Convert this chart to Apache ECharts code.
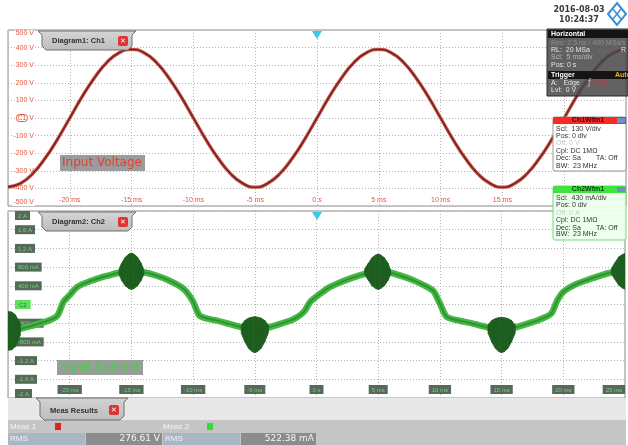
<!DOCTYPE html>
<html><head><meta charset="utf-8">
<script src="https://cdn.jsdelivr.net/npm/echarts@6/dist/echarts.min.js"></script>
<style>html,body{margin:0;padding:0;background:#fff;}#c{width:628px;height:445px;}</style>
</head><body><div id="c"></div>
<script>
// ---- data ----
const voltTime = [-25,-24,-23,-22,-21,-20,-19,-18,-17,-16,-15,-14,-13,-12,-11,-10,-9,-8,-7,-6,-5,-4,-3,-2,-1,0,1,2,3,4,5,6,7,8,9,10,11,12,13,14,15,16,17,18,19,20,21,22,23,24,25];
const voltValue = [-392,-372,-316,-229,-121,0,121,229,316,371,390,371,316,229,121,0,-121,-229,-316,-372,-393,-372,-316,-229,-121,0,121,229,316,371,390,371,316,229,121,0,-121,-229,-316,-372,-393,-372,-316,-229,-121,0,121,229,316,371,390];
const currTime = [-25,-24,-23,-22,-21.5,-21,-20.5,-20,-19.5,-19,-18,-17,-16,-15,-14,-13,-12,-11,-10.5,-10,-9.5,-9,-8,-7,-6,-5,-4,-3,-2,-1.5,-1,-0.5,0,0.5,1,2,3,4,5,6,7,8,9,9.5,10,10.5,11,12,13,14,15,16,17,18,19,19.5,20,21,22,23,24,25];
const currValue = [-560,-520,-450,-370,-320,-240,60,200,350,430,530,610,680,720,690,620,520,380,260,60,-230,-290,-350,-420,-490,-560,-500,-420,-330,-260,-150,60,170,270,360,480,580,660,720,680,600,500,370,280,20,-250,-310,-370,-430,-500,-560,-500,-420,-330,-200,80,270,430,530,620,690,730];
const blobGroup = [0,0,0,0,0,0,0, 1,1,1,1,1,1,1,1,1, 2,2,2,2,2,2,2,2,2, 3,3,3,3,3,3,3,3,3, 4,4,4,4,4,4,4,4,4, 5,5,5,5,5,5];
const blobTime  = [-25.9,-25.6,-25.3,-25,-24.7,-24.4,-24.0,
                   -16.0,-15.8,-15.5,-15.2,-15,-14.8,-14.5,-14.2,-14.0,
                   -6.1,-5.8,-5.5,-5.2,-5,-4.8,-4.5,-4.2,-3.9,
                   3.9,4.2,4.5,4.8,5,5.2,5.5,5.8,6.0,
                   13.9,14.2,14.5,14.8,15,15.2,15.5,15.8,16.1,
                   23.9,24.2,24.5,24.8,25,25.3];
const blobHigh  = [-260,-200,-160,-150,-160,-220,-420,
                   760,880,1010,1080,1100,1080,1010,880,740,
                   -440,-340,-290,-270,-260,-270,-290,-340,-440,
                   760,880,1000,1060,1080,1060,1000,880,740,
                   -440,-340,-300,-280,-280,-280,-300,-340,-440,
                   770,900,1020,1070,1090,1070];
const blobLow   = [-880,-940,-970,-980,-970,-900,-660,
                   640,520,400,340,320,340,400,520,640,
                   -610,-800,-940,-1010,-1030,-1010,-940,-800,-610,
                   640,520,400,340,320,340,400,520,640,
                   -610,-800,-940,-1010,-1030,-1010,-940,-800,-610,
                   650,530,410,350,330,350];
const currTickLabels = {'-2000':'-2 A','-1600':'-1.6 A','-1200':'-1.2 A','-800':'-800 mA','-400':'-400 mA','0':'C2','400':'400 mA','800':'800 mA','1200':'1.2 A','1600':'1.6 A','2000':'2 A'};
const timeTickLabel = v => v === 0 ? '0 s' : v + ' ms';

const chart = echarts.init(document.getElementById('c'), null, {renderer:'canvas'});
const F = '"Liberation Sans", Arial, sans-serif';
const grid = {lineStyle:{color:'#b4b4b4', type:[1,2], width:1}};
const option = {
  animation:false,
  backgroundColor:'#fff',
  grid:[
    {left:8, top:30, width:618, height:176, show:true, borderColor:'#8f8f8f', borderWidth:1, backgroundColor:'#fff'},
    {left:8, top:211, width:618, height:187, show:true, borderColor:'#8f8f8f', borderWidth:1, backgroundColor:'#fff'}
  ],
  xAxis:[
    {type:'value', gridIndex:0, min:-25, max:25, interval:5, axisLine:{show:false}, axisTick:{show:false},
     splitLine:{show:true, ...grid}, axisLabel:{inside:true, margin:2, color:'#e8553f', fontSize:7, fontFamily:F,
     showMinLabel:false, showMaxLabel:false, formatter:timeTickLabel}},
    {type:'value', gridIndex:1, min:-25, max:25, interval:5, axisLine:{show:false}, axisTick:{show:false},
     splitLine:{show:true, ...grid}, axisLabel:{inside:true, margin:4, showMinLabel:false, showMaxLabel:true, alignMaxLabel:'right',
     formatter: v => '{b|' + timeTickLabel(v) + '}',
     rich:{b:{backgroundColor:'#56695a', color:'#6fd66f', fontSize:6, fontFamily:F, padding:[2,3,1,3]}}}}
  ],
  yAxis:[
    {type:'value', gridIndex:0, min:-500, max:500, interval:100, axisLine:{show:false}, axisTick:{show:false},
     splitLine:{show:true, ...grid},
     axisLabel:{inside:true, align:'right', margin:27, color:'#e8553f', fontSize:7, fontFamily:F,
       verticalAlignMaxLabel:'top', verticalAlignMinLabel:'bottom',
       backgroundColor:'#fff', padding:[0,1],
       formatter: v => v === 0 ? '{c|C1}{u| V}' : v + ' V',
       rich:{c:{color:'#e8553f', borderColor:'#e8553f', borderWidth:1, borderRadius:3, padding:[0,1], fontSize:7, fontFamily:F},
             u:{color:'#e8553f', fontSize:7, fontFamily:F}}}},
    {type:'value', gridIndex:1, min:-2000, max:2000, interval:400, axisLine:{show:false}, axisTick:{show:false},
     splitLine:{show:true, ...grid},
     axisLabel:{inside:true, align:'left', margin:7, verticalAlignMaxLabel:'top', verticalAlignMinLabel:'bottom',
       formatter: v => v === 0 ? '{z|C2}' : '{b|' + currTickLabels[String(v)] + '}',
       rich:{b:{backgroundColor:'#56695a', color:'#6fd66f', fontSize:6, fontFamily:F, padding:[2,3,1,3]},
             z:{backgroundColor:'#5ee05e', color:'#2a7a2a', fontSize:6, fontFamily:F, padding:[2,4,1,4]}}}}
  ],
  series:[
    {type:'line', xAxisIndex:0, yAxisIndex:0, data:voltTime.map((t,i)=>[t,voltValue[i]]), smooth:true, showSymbol:false,
     lineStyle:{color:'#c0554a', width:3.4}, z:3},
    {type:'line', xAxisIndex:0, yAxisIndex:0, data:voltTime.map((t,i)=>[t,voltValue[i]]), smooth:true, showSymbol:false,
     lineStyle:{color:'#7d1d18', width:1.4}, z:4},
    {type:'line', xAxisIndex:1, yAxisIndex:1, data:currTime.map((t,i)=>[t,currValue[i]]), smooth:0.3, showSymbol:false,
     lineStyle:{color:'#45b845', width:6.5}, z:3},
    {type:'line', xAxisIndex:1, yAxisIndex:1, data:currTime.map((t,i)=>[t,currValue[i]]), smooth:0.3, showSymbol:false,
     lineStyle:{color:'#2a8a2a', width:2, opacity:0.8}, z:4},
    {type:'custom', xAxisIndex:1, yAxisIndex:1, clip:true, z:5,
     data: blobTime.map((t,i)=>[t, blobHigh[i], blobLow[i]]),
     encode:{x:0, y:[1,2]},
     renderItem: function(params, api){
       const i = params.dataIndex;
       if (i + 1 >= blobTime.length || blobGroup[i+1] !== blobGroup[i]) return null;
       const a = api.coord([blobTime[i], blobHigh[i]]);
       const b = api.coord([blobTime[i+1], blobHigh[i+1]]);
       const c = api.coord([blobTime[i+1], blobLow[i+1]]);
       const d = api.coord([blobTime[i], blobLow[i]]);
       return {type:'polygon', shape:{points:[a,b,c,d]}, style:{fill:'#1d5e1f', stroke:'#1d5e1f', lineWidth:0.8}};
     }}
  ]
};
chart.setOption(option);

const x0 = chart.convertToPixel({xAxisIndex:0}, 0);
function txt(x, y, s, o){ return Object.assign({type:'text', x:x, y:y, z:100, style:Object.assign({text:s, fill:'#333', font:'7px '+F, textVerticalAlign:'middle'}, o||{})}); }
function rect(x,y,w,h,fill,extra){ return {type:'rect', z:99, shape:Object.assign({x:x,y:y,width:w,height:h}, extra&&extra.r?{r:extra.r}:{}), style:Object.assign({fill:fill}, extra&&extra.style||{})}; }
function tab(x, y, label){
  return [
    {type:'polygon', z:99, shape:{points:[[x-4,y],[x,y+4],[x,y+15],[x+4,y+19],[x+86,y+19],[x+90,y+15],[x+90,y+4],[x+94,y]]},
     style:{fill:new echarts.graphic.LinearGradient(0,0,0,1,[{offset:0,color:'#d6d6d6'},{offset:1,color:'#bcbcbc'}]), stroke:'#6f6f6f', lineWidth:1}},
    txt(x+10, y+10, label, {font:'bold 7.5px '+F, fill:'#303030'}),
    rect(x+76, y+5, 10, 10, '#e03434', {r:2}),
    {type:'text', z:101, x:x+81, y:y+10, style:{text:'✕', fill:'#fff', font:'bold 7px "DejaVu Sans"', textAlign:'center', textVerticalAlign:'middle'}}
  ];
}
const g = [];
// date & logo
g.push(txt(579, 10, '2016-08-03', {font:'bold 8px "DejaVu Sans"', fill:'#3a3a3a', textAlign:'center'}));
g.push(txt(579, 20, '10:24:37', {font:'bold 8px "DejaVu Sans"', fill:'#3a3a3a', textAlign:'center'}));
g.push({type:'polygon', z:99, shape:{points:[[617,3],[626,14],[617,25],[608,14]]}, style:{fill:'#fff', stroke:'#3a8fd8', lineWidth:2}});
g.push({type:'polyline', z:100, shape:{points:[[612.5,8.5],[621.5,19.5]]}, style:{stroke:'#3a8fd8', lineWidth:1.5}});
g.push({type:'polyline', z:100, shape:{points:[[621.5,8.5],[612.5,19.5]]}, style:{stroke:'#3a8fd8', lineWidth:1.5}});
// tabs
g.push(...tab(42, 31, 'Diagram1: Ch1'));
g.push(...tab(42, 212, 'Diagram2: Ch2'));
// trigger markers
g.push({type:'polygon', z:100, shape:{points:[[x0-5,31],[x0+5,31],[x0,39]]}, style:{fill:'#3fc6e6'}});
g.push({type:'polygon', z:100, shape:{points:[[x0-5,212],[x0+5,212],[x0,220]]}, style:{fill:'#3fc6e6'}});
// series name labels
g.push(rect(60,155,85,16,'#9c9c9c'));
g.push(txt(102,163,'Input Voltage',{font:'12px "DejaVu Sans"', fill:'#e2402c', textAlign:'center'}));
g.push(rect(57,360,86,15,'#9c9c9c'));
g.push(txt(100,368,'Input Current',{font:'12px "DejaVu Sans"', fill:'#44d044', textAlign:'center'}));
// Horizontal panel
g.push(rect(547,29,81,67,'rgba(72,72,72,0.86)',{style:{stroke:'#2a2a2a', lineWidth:1}}));
g.push(rect(548,30,80,8,'#141414'));
g.push(txt(551,34,'Horizontal',{font:'bold 7px '+F, fill:'#fff'}));
g.push(txt(551,43,'Res: 2.5 ns / 400 MSa/s',{fill:'#8c8c8c'}));
g.push(txt(551,50,'RL:  20 MSa',{fill:'#e6e6e6'}));
g.push(txt(621,50,'R',{fill:'#e6e6e6'}));
g.push(txt(551,57,'Scl:  5 ms/div',{fill:'#b8b8b8'}));
g.push(txt(551,65,'Pos: 0 s',{fill:'#e6e6e6'}));
g.push(rect(548,71,80,8,'#141414'));
g.push(txt(551,75,'Trigger',{font:'bold 7px '+F, fill:'#fff'}));
g.push(txt(615,75,'Auto',{font:'bold 7px '+F, fill:'#f0b428'}));
g.push(txt(551,83,'A:   Edge',{fill:'#e6e6e6'}));
g.push(txt(588,83,'ƒ',{fill:'#bbb', font:'8px "DejaVu Sans"'}));
g.push(txt(594,83,'Ch1',{fill:'#e03030'}));
g.push(txt(551,90,'Lvl:  0 V',{fill:'#e6e6e6'}));
// Ch1 panel
g.push(rect(553,117,73,54,'rgba(255,255,255,0.94)',{r:2, style:{stroke:'#9a9a9a', lineWidth:1}}));
g.push(rect(553,117,73,7,'#ff2626'));
g.push(txt(588,120.5,'Ch1Wfm1',{font:'bold 7px '+F, fill:'#4a0000', textAlign:'center'}));
g.push(rect(617,118,8,5,'#6f8fc0'));
const ch1Lines = ['Scl:  130 V/div','Pos: 0 div','Off: 0 V','Cpl: DC 1MΩ','Dec: Sa','BW:  23 MHz'];
const ch1Y = [129,136,143,151,158,166];
ch1Lines.forEach((s,i)=>g.push(txt(556,ch1Y[i],s,{fill: i===2?'#c4c4c4':'#333'})));
g.push(txt(596,158,'TA: Off',{fill:'#333'}));
// Ch2 panel
g.push(rect(553,186,73,54,'rgba(236,255,236,0.95)',{r:2, style:{stroke:'#77d777', lineWidth:1}}));
g.push(rect(553,186,73,7,'#3fe23f'));
g.push(txt(588,189.5,'Ch2Wfm1',{font:'bold 7px '+F, fill:'#0a3a0a', textAlign:'center'}));
g.push(rect(617,187,8,5,'#6f8fc0'));
const ch2Lines = ['Scl:  430 mA/div','Pos: 0 div','Off: 0 A','Cpl: DC 1MΩ','Dec: Sa','BW:  23 MHz'];
const ch2Y = [198,205,213,220,228,234];
ch2Lines.forEach((s,i)=>g.push(txt(556,ch2Y[i],s,{fill: i===2?'#b8d8b8':'#333'})));
g.push(txt(596,228,'TA: Off',{fill:'#333'}));
// Measurement area
g.push(rect(8,398,618,22,'#e8e8e8'));
g.push(rect(8,420,618,25,'#c5c5c5'));
g.push({type:'polygon', z:100, shape:{points:[[36,398],[40,402],[40,416],[44,420],[120,420],[124,416],[124,402],[128,398]]},
  style:{fill:new echarts.graphic.LinearGradient(0,0,0,1,[{offset:0,color:'#d2d2d2'},{offset:1,color:'#bdbdbd'}]), stroke:'#6f6f6f', lineWidth:1}});
g.push(Object.assign(txt(50,411,'Meas Results',{font:'bold 7.5px '+F, fill:'#303030'}),{z:101}));
g.push(Object.assign(rect(109,405,10,10,'#e03434',{r:2}),{z:101}));
g.push({type:'text', z:102, x:114, y:410, style:{text:'✕', fill:'#fff', font:'bold 7px "DejaVu Sans"', textAlign:'center', textVerticalAlign:'middle'}});
g.push(txt(10,427,'Meas 1',{font:'8px '+F, fill:'#f4f4f4'}));
g.push(rect(55,423,6,7,'#e42020'));
g.push(txt(163,427,'Meas 2',{font:'8px '+F, fill:'#f4f4f4'}));
g.push(rect(207,423,6,7,'#30e030'));
g.push(rect(8,433,77,12,'#a9b6c6'));
g.push(rect(86,433,76,12,'#8c8c8c'));
g.push(rect(163,433,77,12,'#a9b6c6'));
g.push(rect(241,433,75,12,'#8c8c8c'));
g.push(txt(10,439,'RMS',{font:'8px '+F, fill:'#eef2f8'}));
g.push(txt(165,439,'RMS',{font:'8px '+F, fill:'#eef2f8'}));
g.push(txt(160,439,'276.61 V',{font:'9px "DejaVu Sans"', fill:'#f6f6f6', textAlign:'right'}));
g.push(txt(314,439,'522.38 mA',{font:'9px "DejaVu Sans"', fill:'#f6f6f6', textAlign:'right'}));
chart.setOption({graphic:g});
</script></body></html>
